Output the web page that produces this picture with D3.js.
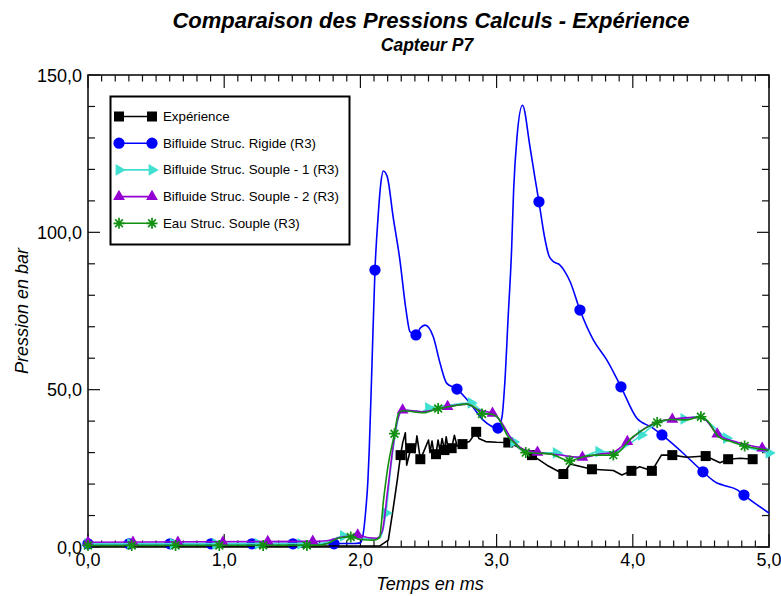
<!DOCTYPE html>
<html><head><meta charset="utf-8">
<script src="https://cdn.jsdelivr.net/npm/d3@7"></script>
<style>body{margin:0;background:#fff}svg{display:block;font-family:"Liberation Sans",Arial,Helvetica,sans-serif}</style>
</head><body><svg id="c" width="781" height="596"></svg>
<script>
// ---------- texts & ticks ----------
const titleText = "Comparaison des Pressions Calculs - Expérience";
const subtitleText = "Capteur P7";
const xTitle = "Temps en ms";
const yTitle = "Pression en bar";
const xMajorTicks = [0, 1, 2, 3, 4, 5];
const xTickLabels = ["0,0", "1,0", "2,0", "3,0", "4,0", "5,0"];
const yMajorTicks = [0, 50, 100, 150];
const yTickLabels = ["0,0", "50,0", "100,0", "150,0"];
const seriesNames = ["Expérience", "Bifluide Struc. Rigide (R3)", "Bifluide Struc. Souple - 1 (R3)", "Bifluide Struc. Souple - 2 (R3)", "Eau Struc. Souple (R3)"];

// ---------- data: [time ms, pressure bar] ----------
const experienceCurve = [[0,0.3],[2.14,0.3],[2.205,2.2],[2.24,12],[2.27,21],[2.295,29.2],[2.31,33],[2.33,36.3],[2.34,26],[2.37,31.4],[2.40,30],[2.415,35.3],[2.44,27.9],[2.465,30.3],[2.50,34],[2.511,30],[2.526,33.7],[2.54,29.5],[2.555,29.5],[2.57,34],[2.585,30.5],[2.60,34.5],[2.617,30.8],[2.63,35],[2.645,31],[2.67,31.4],[2.69,35.5],[2.71,32],[2.75,32.7],[2.80,33.5],[2.85,36.6],[2.87,34.5],[2.92,33.5],[3.0,33.3],[3.086,33.2],[3.15,31.9],[3.20,30.3],[3.26,29.2],[3.37,26],[3.49,23.2],[3.54,26.4],[3.70,24.7],[3.857,24.3],[3.92,22.9],[3.99,24.2],[4.05,25.5],[4.14,24.2],[4.21,29.2],[4.29,29.2],[4.395,28.5],[4.535,28.9],[4.64,26.8],[4.70,27.9],[4.79,28.2],[4.88,27.9]];
const experienceMarks = [[2.295,29.2],[2.37,31.4],[2.44,27.9],[2.555,29.5],[2.617,30.8],[2.67,31.4],[2.75,32.7],[2.85,36.6],[3.086,33.2],[3.26,29.2],[3.49,23.2],[3.70,24.7],[3.99,24.2],[4.14,24.2],[4.29,29.2],[4.535,28.9],[4.70,27.9],[4.88,27.9]];

const rigideCurve = [[0,1],[1.95,1.1],[2.0,1.3],[2.02,4],[2.04,12],[2.055,21],[2.065,31],[2.085,58],[2.107,88],[2.13,105],[2.15,115.6],[2.168,119.5],[2.197,117.7],[2.24,105],[2.29,91.2],[2.335,75.3],[2.364,68.4],[2.408,67.4],[2.44,69.6],[2.475,70.5],[2.535,66.8],[2.585,58.4],[2.634,52],[2.709,50.2],[2.805,45.7],[2.9,40.4],[3.01,37.8],[3.04,41.4],[3.06,52],[3.085,73.2],[3.11,94.4],[3.125,113.4],[3.15,130.4],[3.19,140.4],[3.245,127.2],[3.28,117.7],[3.311,109.7],[3.35,99],[3.385,92.5],[3.42,90.6],[3.46,89.8],[3.50,87.6],[3.54,84.3],[3.612,75.3],[3.71,65.8],[3.81,59.4],[3.913,50.9],[4.03,40.9],[4.14,38],[4.214,35.6],[4.37,29.8],[4.515,23.9],[4.615,20.4],[4.66,19.7],[4.77,18.1],[4.816,16.5],[5.0,10.8]];
const rigideMarks = [[0,1],[0.301,1],[0.602,1],[0.903,1],[1.204,1],[1.505,1],[1.806,1],[2.107,88],[2.408,67.4],[2.709,50.2],[3.01,37.8],[3.311,109.7],[3.612,75.3],[3.913,50.9],[4.214,35.6],[4.515,23.9],[4.816,16.5]];

const souple1Curve = [[0,1],[1.7,1.1],[1.78,2],[1.875,3.5],[1.95,3.2],[2.05,2.6],[2.14,2.8],[2.1875,10.8],[2.22,24],[2.26,37],[2.29,42.5],[2.32,43.5],[2.45,43],[2.5,44.2],[2.65,45],[2.8125,45.8],[2.87,44],[2.92,42.5],[3.0,41.5],[3.06,37.5],[3.125,33.4],[3.2,30.5],[3.3,30],[3.4375,29.9],[3.55,28.5],[3.65,29],[3.75,30.3],[3.87,30.2],[3.95,32],[4.0625,35.6],[4.2,39.8],[4.375,40.7],[4.5,41.5],[4.56,39.5],[4.6875,34.6],[4.82,32],[5.0,29.9]];
const souple1Marks = [[0,1],[0.3125,1],[0.625,1],[0.9375,1],[1.25,1],[1.5625,1],[1.875,3.5],[2.1875,10.8],[2.5,44.2],[2.8125,45.8],[3.125,33.4],[3.4375,29.9],[3.75,30.3],[4.0625,35.6],[4.375,40.7],[4.6875,34.6],[5.0,29.9]];

const souple2Curve = [[0,1.5],[1.65,1.8],[1.75,2],[1.85,3],[1.98,3.8],[2.05,3],[2.12,2.8],[2.16,5],[2.20,18],[2.24,32],[2.27,40],[2.31,43.5],[2.45,43],[2.64,44.6],[2.78,45.4],[2.87,43.5],[2.97,42.5],[3.03,40],[3.1,35],[3.2,31],[3.30,30.1],[3.45,29.3],[3.63,28.5],[3.75,29.5],[3.85,30],[3.96,33.5],[4.1,38],[4.2,40],[4.29,40.6],[4.45,41.2],[4.52,40.8],[4.62,35.9],[4.75,33.5],[4.95,31.4],[5.0,30.8]];
const souple2Marks = [[0,1.5],[0.33,1.5],[0.66,1.5],[0.99,1.5],[1.32,1.7],[1.65,1.8],[1.98,3.8],[2.31,43.5],[2.64,44.6],[2.97,42.5],[3.30,30.1],[3.63,28.5],[3.96,33.5],[4.29,40.6],[4.62,35.9],[4.95,31.4]];

const eauCurve = [[0,0.5],[1.7,0.6],[1.78,1.5],[1.835,2.8],[1.929,3.2],[2.0,2.4],[2.1,2.2],[2.14,3],[2.17,15],[2.20,25],[2.25,36],[2.28,42.5],[2.31,43.3],[2.46,42.7],[2.571,44],[2.68,44.8],[2.78,45.4],[2.85,44],[2.893,42.3],[2.95,42.3],[3.0,41.5],[3.086,35],[3.15,32.4],[3.214,30],[3.30,29.8],[3.39,29.6],[3.536,27.4],[3.61,28.3],[3.71,29.2],[3.857,29.2],[4.0,35],[4.179,39.6],[4.28,40.5],[4.395,40.4],[4.5,41.4],[4.55,40],[4.63,35],[4.72,33.5],[4.821,32.1],[5.0,30.8]];
const eauMarks = [[0,0.5],[0.321,0.5],[0.643,0.5],[0.964,0.5],[1.286,0.5],[1.607,0.5],[1.929,3.2],[2.25,36],[2.571,44],[2.893,42.3],[3.214,30],[3.536,27.4],[3.857,29.2],[4.179,39.6],[4.5,41.4],[4.821,32.1]];

// ---------- layout ----------
const svg = d3.select("#c");
const L = 88, R = 769, T = 75, B = 547;
const x = d3.scaleLinear([0, 5], [L, R]);
const y = d3.scaleLinear([0, 150], [B, T]);
const INK = "#111";

// titles
svg.append("text").attr("x", 431).attr("y", 28).attr("text-anchor", "middle")
  .attr("font-size", 22).attr("font-weight", "bold").attr("font-style", "italic").text(titleText);
svg.append("text").attr("x", 427).attr("y", 51).attr("text-anchor", "middle")
  .attr("font-size", 17.5).attr("font-weight", "bold").attr("font-style", "italic").text(subtitleText);
svg.append("text").attr("x", 430).attr("y", 590).attr("text-anchor", "middle")
  .attr("font-size", 18).attr("font-style", "italic").text(xTitle);
svg.append("text").attr("transform", "translate(28,311) rotate(-90)").attr("text-anchor", "middle")
  .attr("font-size", 18).attr("font-style", "italic").text(yTitle);

// ticks (inward on all four sides)
const g = svg.append("g").attr("stroke", INK).attr("stroke-width", 1.2);
const xMinor = x.ticks(50);
const yMinor = y.ticks(15);
const isMajorX = t => xMajorTicks.some(m => Math.abs(m - t) < 1e-6);
const isMajorY = t => yMajorTicks.some(m => Math.abs(m - t) < 1e-6);
xMinor.forEach(t => {
  const len = isMajorX(t) ? 13 : 6.5;
  g.append("line").attr("x1", x(t)).attr("x2", x(t)).attr("y1", B).attr("y2", B - len);
  g.append("line").attr("x1", x(t)).attr("x2", x(t)).attr("y1", T).attr("y2", T + len);
});
yMinor.forEach(v => {
  const len = isMajorY(v) ? 12 : 7;
  g.append("line").attr("x1", L).attr("x2", L + len).attr("y1", y(v)).attr("y2", y(v));
  g.append("line").attr("x1", R).attr("x2", R - len).attr("y1", y(v)).attr("y2", y(v));
});
svg.append("rect").attr("x", L).attr("y", T).attr("width", R - L).attr("height", B - T)
  .attr("fill", "none").attr("stroke", INK).attr("stroke-width", 1.6);

// tick labels
xMajorTicks.forEach((t, i) => svg.append("text").attr("x", x(t)).attr("y", 566)
  .attr("text-anchor", "middle").attr("font-size", 18).text(xTickLabels[i]));
yMajorTicks.forEach((v, i) => svg.append("text").attr("x", 82).attr("y", y(v) + 6.5)
  .attr("text-anchor", "end").attr("font-size", 18).text(yTickLabels[i]));

// ---------- markers ----------
function marker(sel, kind, color) {
  if (kind === "square") {
    sel.append("path").attr("d", d3.symbol(d3.symbolSquare, 100)()).attr("fill", color);
  } else if (kind === "circle") {
    sel.append("path").attr("d", d3.symbol(d3.symbolCircle, 100)()).attr("fill", color);
  } else if (kind === "tri-right") {
    sel.append("path").attr("d", d3.symbol(d3.symbolTriangle, 60)()).attr("transform", "rotate(90)").attr("fill", color);
  } else if (kind === "tri-up") {
    sel.append("path").attr("d", d3.symbol(d3.symbolTriangle, 60)()).attr("fill", color);
  } else if (kind === "star") {
    const r = 5.5, d = r * 0.7071;
    sel.append("path").attr("d", `M${-r},0L${r},0M0,${-r}L0,${r}M${-d},${-d}L${d},${d}M${-d},${d}L${d},${-d}`)
      .attr("stroke", color).attr("stroke-width", 1.7).attr("fill", "none");
  }
}

const series = [
  {name: seriesNames[1], curve: rigideCurve, marks: rigideMarks, color: "#0000ff", kind: "circle", interp: d3.curveMonotoneX},
  {name: seriesNames[0], curve: experienceCurve, marks: experienceMarks, color: "#000000", kind: "square", interp: d3.curveLinear},
  {name: seriesNames[2], curve: souple1Curve, marks: souple1Marks, color: "#40e0d0", kind: "tri-right", interp: d3.curveMonotoneX},
  {name: seriesNames[3], curve: souple2Curve, marks: souple2Marks, color: "#9400d3", kind: "tri-up", interp: d3.curveMonotoneX},
  {name: seriesNames[4], curve: eauCurve, marks: eauMarks, color: "#119011", kind: "star", interp: d3.curveMonotoneX}
];

series.forEach(s => {
  const line = d3.line().x(d => x(d[0])).y(d => y(d[1])).curve(s.interp);
  svg.append("path").datum(s.curve).attr("d", line).attr("fill", "none")
    .attr("stroke", s.color).attr("stroke-width", 1.6).attr("stroke-linejoin", "round");
  s.marks.forEach(d => {
    const m = svg.append("g").attr("transform", `translate(${x(d[0])},${y(d[1])})`);
    marker(m, s.kind, s.color);
  });
});

// ---------- legend ----------
const legendOrder = [series[1], series[0], series[2], series[3], series[4]];
const lg = svg.append("g");
lg.append("rect").attr("x", 110.5).attr("y", 96.5).attr("width", 239).attr("height", 148)
  .attr("fill", "#fff").attr("stroke", "#000").attr("stroke-width", 2);
legendOrder.forEach((s, i) => {
  const yy = 116.5 + i * 26.7;
  lg.append("line").attr("x1", 119).attr("x2", 152).attr("y1", yy).attr("y2", yy)
    .attr("stroke", s.color).attr("stroke-width", 1.6);
  [119, 152].forEach(xx => marker(lg.append("g").attr("transform", `translate(${xx},${yy})`), s.kind, s.color));
  lg.append("text").attr("x", 163).attr("y", yy + 4.5).attr("font-size", 13.3).text(s.name);
});
</script></body></html>
